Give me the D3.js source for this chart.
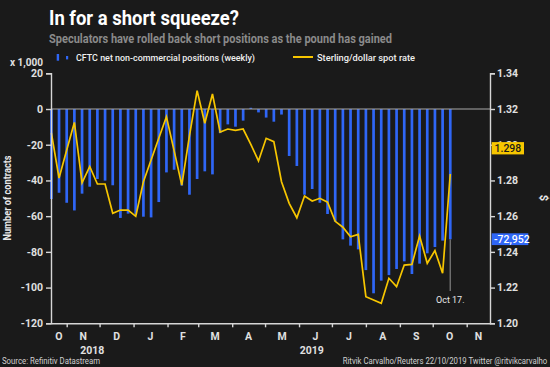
<!DOCTYPE html>
<html>
<head>
<meta charset="utf-8">
<script src="https://cdn.jsdelivr.net/npm/d3@7"></script>
<style>
  html, body { margin: 0; padding: 0; background: #1a1a1a; }
  svg { display: block; }
  text { font-family: Roboto, "Open Sans", sans-serif; }
</style>
</head>
<body>
<svg id="chart" width="550" height="367"></svg>
<script>
// ---- data ----
const weekDates = [
  "2018-10-18","2018-10-25","2018-11-01","2018-11-08","2018-11-15","2018-11-22","2018-11-29",
  "2018-12-06","2018-12-13","2018-12-20","2018-12-27","2019-01-03","2019-01-10","2019-01-17",
  "2019-01-24","2019-01-31","2019-02-07","2019-02-14","2019-02-21","2019-02-28","2019-03-07",
  "2019-03-14","2019-03-21","2019-03-28","2019-04-04","2019-04-11","2019-04-18","2019-04-25",
  "2019-05-02","2019-05-09","2019-05-16","2019-05-23","2019-05-30","2019-06-06","2019-06-13",
  "2019-06-20","2019-06-27","2019-07-04","2019-07-11","2019-07-18","2019-07-25","2019-08-01",
  "2019-08-08","2019-08-15","2019-08-22","2019-08-29","2019-09-05","2019-09-12","2019-09-19",
  "2019-09-26","2019-10-03","2019-10-10","2019-10-17"
];
// CFTC net non-commercial positions, thousands of contracts
const netPositions = [
  -50.4,-46.9,-52.5,-56.8,-47.4,-43.5,-39.2,-40.1,-42.7,-61.0,-58.6,-59.2,-60.3,-60.7,
  -52.1,-35.5,-34.0,-42.9,-48.0,-39.2,-34.9,-36.6,-13.5,-8.6,-9.9,-6.5,0.7,-1.9,
  -4.8,-7.1,-3.1,-26.3,-31.9,-48.0,-44.8,-52.5,-58.8,-63.0,-73.0,-76.5,-78.6,-90.2,
  -103.2,-96.1,-93.0,-89.6,-85.3,-92.4,-86.6,-80.8,-77.3,-73.7,-72.952
];
// Sterling/dollar spot rate
const spotRate = [
  1.3066,1.2813,1.2970,1.3125,1.2787,1.2878,1.2780,1.2780,1.2616,1.2634,1.2634,1.2599,1.2793,1.2914,
  1.3036,1.3157,1.2967,1.2774,1.3050,1.3303,1.3120,1.3284,1.3071,1.3088,1.3080,1.3088,1.3002,1.2909,
  1.3036,1.3017,1.2793,1.2672,1.2591,1.2713,1.2685,1.2700,1.2678,1.2571,1.2538,1.2485,1.2498,1.2149,
  1.2130,1.2112,1.2252,1.2205,1.2326,1.2330,1.2489,1.2336,1.2407,1.2280,1.2836
];
const leftTicks = [20, 0, -20, -40, -60, -80, -100, -120];
const rightTicks = [1.34, 1.32, 1.30, 1.28, 1.26, 1.24, 1.22, 1.20];
const monthLabels = ["O","N","D","J","F","M","A","M","J","J","A","S","O","N"];
const yearLabels = ["2018", "2019"];
const latestRateLabel = 1.298;
const latestPositionLabel = -72.952;

// ---- layout ----
const svg = d3.select("#chart");
const W = 550, H = 367;
const L = 51, R = 490, T = 73.3, B = 323.3;
const parse = d3.timeParse("%Y-%m-%d");
const dates = weekDates.map(parse);

const x = d3.scaleTime()
  .domain([new Date(2018, 9, 17, 16), new Date(2019, 10, 22, 6)])
  .range([L, R]);
const yL = d3.scaleLinear().domain([-120, 20]).range([B, T]);
const yR = d3.scaleLinear().domain([1.20, 1.34]).range([B, T]);

const BLUE = "#2f66f6", YELLOW = "#f7c600", AX = "#d6d6d6";

svg.append("rect").attr("width", W).attr("height", H).attr("fill", "#1a1a1a");

// title
svg.append("text").attr("x", 49).attr("y", 25).attr("fill", "#ffffff")
  .attr("font-size", 20).attr("font-weight", 700)
  .attr("textLength", 190).attr("lengthAdjust", "spacingAndGlyphs")
  .text("In for a short squeeze?");
svg.append("text").attr("x", 49).attr("y", 43.3).attr("fill", "#8a8a8a")
  .attr("font-size", 12.5).attr("font-weight", 700)
  .attr("textLength", 343).attr("lengthAdjust", "spacingAndGlyphs")
  .text("Speculators have rolled back short positions as the pound has gained");

// legend
svg.append("rect").attr("x", 56.7).attr("y", 54).attr("width", 2.4).attr("height", 6.7).attr("fill", BLUE);
svg.append("rect").attr("x", 66).attr("y", 56).attr("width", 2.2).attr("height", 3.4).attr("fill", BLUE);
svg.append("text").attr("x", 76).attr("y", 60.5).attr("fill", "#f0f0f0")
  .attr("font-size", 9.6).attr("font-weight", 500)
  .attr("textLength", 179).attr("lengthAdjust", "spacingAndGlyphs")
  .text("CFTC net non-commercial positions (weekly)");
svg.append("line").attr("x1", 293).attr("x2", 313).attr("y1", 57).attr("y2", 57)
  .attr("stroke", YELLOW).attr("stroke-width", 2);
svg.append("text").attr("x", 317).attr("y", 60.5).attr("fill", "#f0f0f0")
  .attr("font-size", 9.6).attr("font-weight", 500)
  .attr("textLength", 98).attr("lengthAdjust", "spacingAndGlyphs")
  .text("Sterling/dollar spot rate");

// bars
const barW = 2.7;
svg.append("g").selectAll("rect").data(netPositions).join("rect")
  .attr("x", (d, i) => x(dates[i]) - barW / 2)
  .attr("width", barW)
  .attr("y", d => yL(Math.max(0, d)))
  .attr("height", d => Math.abs(yL(d) - yL(0)))
  .attr("fill", BLUE);

// zero line
svg.append("line").attr("x1", L).attr("x2", R).attr("y1", yL(0)).attr("y2", yL(0))
  .attr("stroke", "#a8a8a8").attr("stroke-width", 1.2);

// Oct 17 marker
const lastX = x(dates[dates.length - 1]);
svg.append("line").attr("x1", lastX).attr("x2", lastX)
  .attr("y1", yL(netPositions[netPositions.length - 1])).attr("y2", 291)
  .attr("stroke", "#6e6e6e").attr("stroke-width", 1.5);
svg.append("text").attr("x", lastX).attr("y", 303).attr("text-anchor", "middle")
  .attr("fill", "#e8e8e8").attr("font-size", 9).text("Oct 17.");

// spot line
svg.append("path").datum(spotRate)
  .attr("fill", "none").attr("stroke", YELLOW).attr("stroke-width", 1.7)
  .attr("stroke-linejoin", "miter")
  .attr("d", d3.line().x((d, i) => x(dates[i])).y(d => yR(d)));

// axes
function styleAxis(g) {
  g.selectAll("path.domain").attr("stroke", AX).attr("stroke-width", 1.4);
  g.selectAll(".tick line").attr("stroke", AX).attr("stroke-width", 1.4);
  g.selectAll(".tick text").attr("fill", "#e0e0e0").attr("font-size", 10.5)
    .attr("font-weight", 700).attr("font-family", "Roboto, sans-serif");
}
svg.append("g").attr("transform", `translate(${L},0)`)
  .call(d3.axisLeft(yL).tickValues(leftTicks).tickFormat(d => String(d)).tickSize(5).tickSizeOuter(5).tickPadding(3))
  .call(styleAxis);
svg.append("g").attr("transform", `translate(${R},0)`)
  .call(d3.axisRight(yR).tickValues(rightTicks).tickFormat(d3.format(".2f")).tickSize(5).tickSizeOuter(5).tickPadding(2))
  .call(styleAxis);

const monthStarts = d3.timeMonth.range(new Date(2018, 10, 1), new Date(2019, 10, 2));
svg.append("g").attr("transform", `translate(0,${B})`)
  .call(d3.axisBottom(x).tickValues(monthStarts).tickFormat("").tickSize(4).tickSizeOuter(0))
  .call(styleAxis);

// month labels centred on visible part of each month
const monthsAll = d3.timeMonth.range(new Date(2018, 9, 1), new Date(2019, 11, 1));
svg.append("g").selectAll("text").data(monthsAll).join("text")
  .attr("x", d => {
    const a = Math.max(x(d), L), b = Math.min(x(d3.timeMonth.offset(d, 1)), R);
    return (a + b) / 2;
  })
  .attr("y", 339.5).attr("text-anchor", "middle").attr("fill", "#e0e0e0")
  .attr("font-size", 10.5).attr("font-weight", 700)
  .text((d, i) => monthLabels[i]);

const jan19 = x(new Date(2019, 0, 1));
svg.append("text").attr("x", (L + jan19) / 2).attr("y", 353.5).attr("text-anchor", "middle")
  .attr("fill", "#e0e0e0").attr("font-size", 10.5).attr("font-weight", 700).text(yearLabels[0]);
svg.append("text").attr("x", (jan19 + R) / 2).attr("y", 353.5).attr("text-anchor", "middle")
  .attr("fill", "#e0e0e0").attr("font-size", 10.5).attr("font-weight", 700).text(yearLabels[1]);

// axis titles
svg.append("text").attr("x", 43).attr("y", 66).attr("text-anchor", "end")
  .attr("fill", "#e0e0e0").attr("font-size", 10).attr("font-weight", 700).text("x 1,000");
svg.append("text").attr("transform", "translate(11,198) rotate(-90)")
  .attr("text-anchor", "middle").attr("fill", "#e8e8e8")
  .attr("font-size", 10).attr("font-weight", 700)
  .attr("textLength", 85).attr("lengthAdjust", "spacingAndGlyphs")
  .text("Number of contracts");
svg.append("text").attr("transform", "translate(540,198) rotate(90)")
  .attr("text-anchor", "middle").attr("fill", "#e8e8e8")
  .attr("font-size", 11).attr("font-weight", 700).text("$");

// value boxes
const yb = yR(latestRateLabel);
svg.append("rect").attr("x", 491.7).attr("y", yb - 6.2).attr("width", 32.3).attr("height", 12.3).attr("fill", YELLOW);
svg.append("text").attr("x", 494.5).attr("y", yb + 3.6).attr("fill", "#1a1a1a")
  .attr("font-size", 10.5).attr("font-weight", 500).text(d3.format(".3f")(latestRateLabel));
const ybl = yL(latestPositionLabel);
svg.append("rect").attr("x", 491.7).attr("y", ybl - 6).attr("width", 36.6).attr("height", 11.8).attr("fill", BLUE);
svg.append("text").attr("x", 494).attr("y", ybl + 3.6).attr("fill", "#ffffff")
  .attr("font-size", 10.5).attr("font-weight", 500)
  .text("-" + d3.format(",")(Math.round(Math.abs(latestPositionLabel) * 1000)));

// footer
svg.append("text").attr("x", 2).attr("y", 363.5).attr("fill", "#d0d0d0")
  .attr("font-size", 8.6).attr("textLength", 98).attr("lengthAdjust", "spacingAndGlyphs")
  .text("Source: Refinitiv Datastream");
svg.append("text").attr("x", 342.7).attr("y", 363.5).attr("fill", "#d0d0d0")
  .attr("font-size", 8.6).attr("textLength", 204.6).attr("lengthAdjust", "spacingAndGlyphs")
  .text("Ritvik Carvalho/Reuters 22/10/2019 Twitter @ritvikcarvalho");
</script>
</body>
</html>
